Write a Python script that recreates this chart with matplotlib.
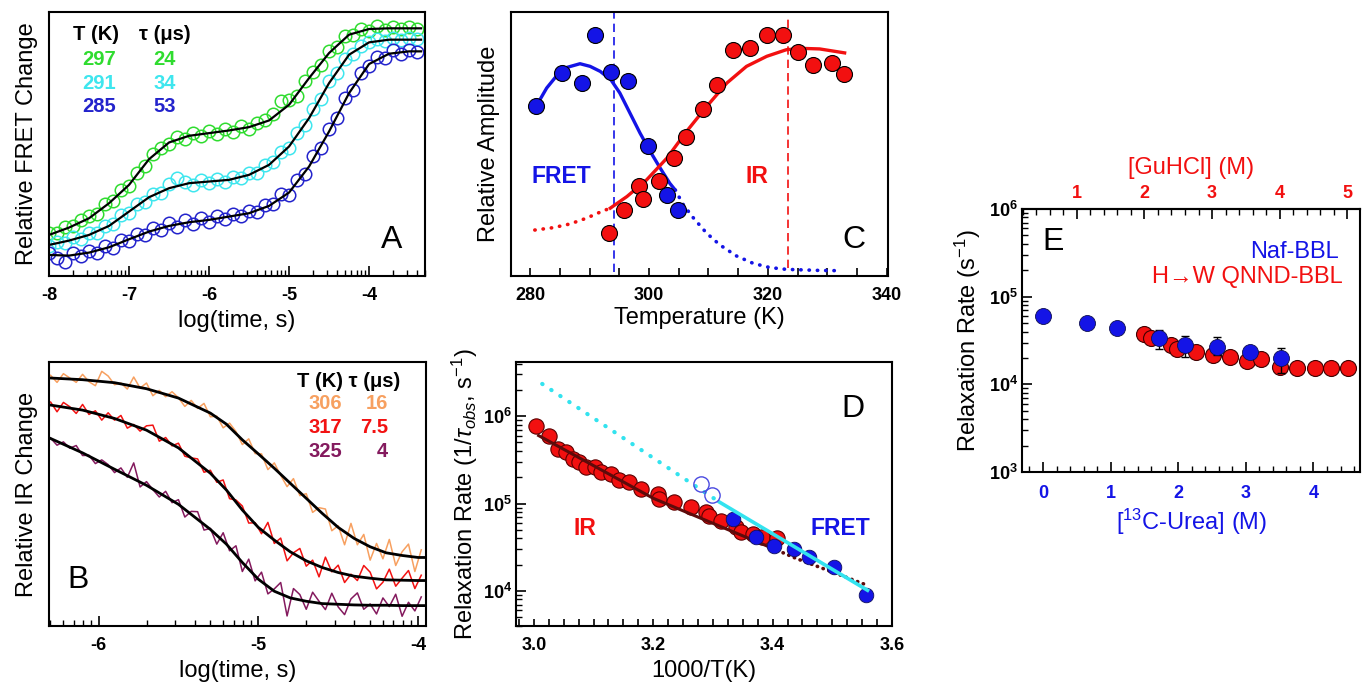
import numpy as np
import matplotlib
matplotlib.use("Agg")
import matplotlib.pyplot as plt
from matplotlib.ticker import FixedLocator, MultipleLocator, FuncFormatter, LogLocator, NullFormatter

plt.rcParams['font.family'] = ['Liberation Sans', 'DejaVu Sans']
plt.rcParams['mathtext.fontset'] = 'custom'
plt.rcParams['mathtext.rm'] = 'Liberation Sans'
plt.rcParams['mathtext.it'] = 'Liberation Sans:italic'
plt.rcParams['mathtext.bf'] = 'Liberation Sans:bold'
plt.rcParams['axes.linewidth'] = 1.5
plt.rcParams['axes.unicode_minus'] = False
plt.rcParams['xtick.direction'] = 'in'
plt.rcParams['ytick.direction'] = 'in'

# ---------------- panel A: FRET kinetics ----------------
A_T = ["297", "291", "285"]
A_TAU = ["24", "34", "53"]
A_COLORS = ["#2fdc2f", "#3ee6ee", "#2323cc"]
A_TIME = np.round(np.arange(-8.0, -3.35, 0.1), 2)
A_DATA = [
    [12.8, 13.0, 14.6, 15.0, 16.9, 17.9, 18.6, 21.5, 22.6, 25.8, 27.0, 30.9, 33.0, 36.6, 38.4, 39.5,
     41.5, 41.0, 42.9, 42.0, 43.4, 42.6, 43.9, 43.2, 44.9, 44.0, 45.9, 46.8, 48.5, 52.5, 52.8, 54.0,
     58.4, 61.2, 63.1, 67.5, 68.5, 71.9, 72.2, 74.0, 73.5, 74.8, 73.8, 74.6, 74.0, 74.5, 74.1],
    [9.0, 10.3, 9.9, 11.6, 11.2, 12.9, 13.0, 15.1, 15.5, 18.2, 19.0, 21.6, 22.2, 24.7, 25.0, 27.5,
     29.5, 28.2, 27.4, 28.7, 27.9, 29.0, 28.3, 29.6, 29.3, 30.9, 31.0, 33.2, 34.0, 37.1, 38.3, 42.8,
     45.1, 50.0, 53.1, 58.3, 60.8, 65.1, 66.6, 69.0, 70.1, 71.0, 70.3, 71.3, 70.6, 71.2, 70.9],
    [6.8, 5.4, 4.2, 6.9, 6.0, 7.6, 7.0, 8.9, 8.5, 10.8, 10.4, 12.6, 12.2, 14.5, 13.8, 15.9,
     14.8, 16.8, 15.6, 17.3, 16.2, 18.0, 17.0, 18.7, 17.9, 19.5, 19.1, 21.4, 21.6, 24.6, 24.3, 28.9,
     30.5, 36.0, 38.4, 44.1, 47.2, 53.4, 55.8, 60.8, 62.9, 65.5, 65.4, 67.6, 66.6, 67.8, 67.0],
]
A_FIT_TIME = [-8.0, -7.75, -7.5, -7.25, -7.0, -6.75, -6.5, -6.25, -6.0, -5.75, -5.5, -5.25,
              -5.0, -4.75, -4.5, -4.25, -4.0, -3.75, -3.5, -3.35]
A_FIT = [
    [12.3, 14.5, 17.3, 21.8, 27.3, 35.0, 40.0, 42.0, 42.8, 43.6, 44.6, 46.6, 51.3, 59.3, 66.8, 72.3,
     74.0, 74.2, 74.2, 74.2],
    [9.3, 10.6, 12.3, 15.0, 19.3, 23.6, 26.3, 27.8, 28.3, 28.8, 30.3, 33.3, 38.8, 47.3, 57.8, 66.3,
     70.0, 70.8, 70.8, 70.8],
    [6.3, 6.1, 7.0, 8.6, 11.0, 13.3, 15.0, 16.1, 16.8, 17.8, 18.8, 21.0, 25.0, 32.8, 43.3, 54.8,
     63.5, 66.6, 67.3, 67.3],
]
A_TICKS = [-8, -7, -6, -5, -4]

# ---------------- panel B: IR kinetics ----------------
B_T = ["306", "317", "325"]
B_TAU = ["16", "7.5", "4"]
B_COLORS = ["#f7a060", "#f21212", "#841a5e"]
B_TIME = np.round(np.arange(-6.30, -3.97, 0.04), 2)
B_DATA = [
    [75.0, 72.9, 75.5, 74.2, 72.9, 75.3, 73.1, 71.9, 76.2, 74.8, 72.2, 72.7, 70.9, 74.5, 71.2, 72.7,
     68.9, 70.5, 68.6, 70.1, 68.3, 65.7, 67.5, 65.1, 66.6, 62.6, 62.8, 59.3, 60.7, 58.2, 54.3, 56.0,
     51.6, 51.5, 46.8, 48.8, 45.1, 41.7, 44.1, 39.0, 39.6, 34.0, 35.4, 35.0, 28.5, 30.0, 24.3, 30.7,
     24.3, 27.4, 19.7, 24.7, 20.1, 25.9, 18.1, 22.2, 24.5, 16.3, 22.8],
    [67.0, 64.1, 66.9, 65.6, 63.6, 66.3, 63.3, 64.4, 61.6, 63.8, 61.6, 63.0, 59.2, 60.3, 58.3, 59.9,
     60.1, 55.3, 56.4, 53.9, 54.7, 50.8, 50.3, 50.0, 46.0, 46.6, 43.0, 43.7, 38.1, 37.7, 35.9, 30.8,
     30.9, 27.6, 31.0, 24.7, 26.3, 19.5, 21.9, 23.2, 17.9, 19.7, 14.7, 20.6, 16.2, 18.2, 13.0, 15.5,
     13.6, 18.1, 16.1, 11.1, 13.1, 17.0, 11.9, 14.3, 16.6, 11.2, 15.2],
    [56.2, 54.1, 55.1, 53.2, 54.0, 51.0, 51.1, 48.6, 49.7, 48.3, 45.9, 47.3, 44.5, 48.8, 41.6, 43.2,
     40.8, 38.6, 40.3, 36.9, 37.8, 32.6, 34.3, 34.2, 28.7, 29.2, 24.5, 27.9, 22.5, 24.0, 16.3, 20.0,
     13.5, 16.1, 9.6, 11.1, 13.0, 3.0, 11.2, 9.4, 5.0, 10.1, 7.4, 4.9, 9.8, 5.7, 3.4, 8.1,
     9.9, 5.0, 6.6, 3.6, 8.4, 5.8, 9.5, 2.9, 7.1, 4.5, 8.7],
]
B_FIT_TIME = [-6.3, -6.1, -5.9, -5.7, -5.5, -5.3, -5.2, -5.1, -5.0, -4.9, -4.8, -4.7, -4.6, -4.5,
              -4.4, -4.3, -4.2, -4.1, -4.0, -3.96]
B_FIT = [
    [74.2, 73.7, 72.8, 71.0, 68.2, 63.7, 60.4, 55.7, 51.5, 47.2, 42.7, 38.2, 33.7, 29.5, 26.2, 23.7,
     21.9, 21.1, 20.5, 20.5],
    [66.1, 64.6, 62.1, 58.6, 53.3, 45.7, 40.7, 34.7, 29.5, 25.7, 22.2, 19.5, 17.5, 16.0, 14.9, 14.3,
     13.8, 13.7, 13.6, 13.6],
    [56.1, 51.8, 46.9, 42.1, 36.4, 28.9, 24.5, 19.0, 14.0, 10.4, 8.4, 7.4, 6.7, 6.5, 6.3, 6.2,
     6.2, 6.1, 6.1, 6.1],
]
B_TICKS = [-6, -5, -4]

# ---------------- panel C: amplitudes ----------------
C_FRET_T = [281.0, 285.3, 288.8, 290.9, 293.6, 296.5, 299.8, 303.1, 304.9]
C_FRET_AMP = [0.642, 0.769, 0.731, 0.914, 0.771, 0.737, 0.494, 0.305, 0.248]
C_IR_T = [293.3, 295.8, 298.4, 299.0, 301.7, 304.2, 306.2, 309.1, 311.4, 314.2, 317.0, 319.9,
          322.5, 325.1, 327.6, 330.7, 332.8]
C_IR_AMP = [0.162, 0.250, 0.341, 0.291, 0.360, 0.446, 0.528, 0.632, 0.724, 0.855, 0.863, 0.911,
            0.914, 0.848, 0.800, 0.807, 0.766]
C_FRET_FIT_T = [281.0, 282.8, 284.5, 286.2, 288.4, 290.1, 291.8, 293.6, 295.1, 296.8, 298.5,
                300.2, 301.9, 303.5, 304.4]
C_FRET_FIT = [0.642, 0.712, 0.759, 0.790, 0.804, 0.794, 0.775, 0.743, 0.693, 0.617, 0.541,
              0.472, 0.408, 0.351, 0.326]
C_FRET_EXT_T = [304.4, 305.8, 307.5, 309.7, 311.9, 314.7, 317.5, 320.3, 323.1, 325.9, 328.7, 332.1]
C_FRET_EXT = [0.326, 0.269, 0.219, 0.162, 0.118, 0.076, 0.048, 0.032, 0.025, 0.023, 0.021, 0.020]
C_IR_EXT_T = [280.8, 283.9, 286.7, 289.5, 292.0, 293.5]
C_IR_EXT = [0.174, 0.183, 0.197, 0.219, 0.244, 0.257]
C_IR_FIT_T = [293.5, 296.3, 299.6, 303.0, 306.3, 309.7, 313.1, 316.4, 319.8, 323.1, 325.9,
              328.7, 332.9]
C_IR_FIT = [0.257, 0.301, 0.364, 0.446, 0.547, 0.642, 0.731, 0.794, 0.832, 0.857, 0.862,
            0.860, 0.845]
C_FRET_TM = 294.2
C_IR_TM = 323.4

# ---------------- panel D: Arrhenius ----------------
D_IR_X = [3.004, 3.026, 3.040, 3.054, 3.065, 3.076, 3.088, 3.102, 3.113, 3.129, 3.143, 3.160,
          3.180, 3.208, 3.210, 3.235, 3.263, 3.288, 3.294, 3.314, 3.339, 3.347, 3.367, 3.383, 3.408]
D_IR_RATE = [7.7e5, 5.9e5, 4.2e5, 3.9e5, 3.25e5, 3.0e5, 2.6e5, 2.6e5, 2.3e5, 2.2e5, 1.84e5,
             1.76e5, 1.48e5, 1.29e5, 1.14e5, 1.04e5, 9.1e4, 8.0e4, 7.3e4, 6.4e4, 5.4e4, 4.7e4,
             4.5e4, 4.1e4, 4.0e4]
D_FRET_X = [3.333, 3.372, 3.403, 3.436, 3.461, 3.503, 3.556]
D_FRET_RATE = [6.7e4, 4.1e4, 3.3e4, 3.05e4, 2.45e4, 1.9e4, 8.9e3]
D_OPEN_X = [3.280, 3.298]
D_OPEN_RATE = [1.69e5, 1.27e5]
D_IR_FIT_X = [3.008, 3.2, 3.408]
D_IR_FIT = [6.0e5, 1.15e5, 2.92e4]
D_IR_EXT_X = [3.408, 3.44, 3.50, 3.559]
D_IR_EXT = [2.92e4, 2.35e4, 1.65e4, 1.16e4]
D_FRET_EXT_X = [3.014, 3.311]
D_FRET_EXT = [2.34e6, 1.04e5]
D_FRET_FIT_X = [3.311, 3.559]
D_FRET_FIT = [1.04e5, 1.02e4]

# ---------------- panel E: denaturant ----------------
E_UREA = [0.0, 0.65, 1.10, 1.72, 2.10, 2.57, 3.06, 3.52]
E_UREA_RATE = [6.07e4, 5.05e4, 4.39e4, 3.41e4, 2.83e4, 2.69e4, 2.32e4, 1.98e4]
E_UREA_ERR_LO = [0, 0, 0, 9100, 8000, 5300, 0, 6500]
E_UREA_ERR_HI = [0, 0, 0, 7600, 7300, 7500, 0, 6000]
E_GUHCL = [1.99, 2.09, 2.40, 2.48, 2.76, 3.01, 3.26, 3.51, 3.73, 4.00, 4.26, 4.52, 4.76, 5.01]
E_GUHCL_RATE = [3.72e4, 3.41e4, 2.81e4, 2.51e4, 2.32e4, 2.16e4, 2.07e4, 1.86e4, 1.95e4, 1.59e4,
                1.52e4, 1.52e4, 1.52e4, 1.52e4]
E_UREA_TICKS = [0, 1, 2, 3, 4]
E_GUHCL_TICKS = [1, 2, 3, 4, 5]
GUHCL_OFFSET = 0.5  # top axis = urea axis shifted by 0.5 M

BLUE = "#1414e6"
RED = "#f21010"
LABEL_FS = 17
TICK_FS = 13


def log_minor(lo, hi):
    out = []
    for n in range(int(np.floor(lo)), int(np.ceil(hi)) + 1):
        for k in range(2, 10):
            v = n + np.log10(k)
            if lo <= v <= hi:
                out.append(v)
    return out


def bold_pow(v, pos):
    return r"$\mathbf{10^{%d}}$" % int(round(np.log10(v)))


def style_logy(ax):
    ax.set_yscale("log")
    ax.yaxis.set_major_locator(LogLocator(base=10, numticks=10))
    ax.yaxis.set_minor_locator(LogLocator(base=10, subs=np.arange(2, 10), numticks=10))
    ax.yaxis.set_major_formatter(FuncFormatter(bold_pow))
    ax.yaxis.set_minor_formatter(NullFormatter())
    ax.tick_params(axis="y", which="major", length=7, width=1.2, labelsize=TICK_FS, pad=3)
    ax.tick_params(axis="y", which="minor", length=4, width=1.0)


def plot_a(fig):
    ax = fig.add_axes([0.0359, 0.6012, 0.2753, 0.3815])
    for data, fit, c in zip(A_DATA, A_FIT, A_COLORS):
        ax.plot(A_TIME, data, "o", mfc="none", mec=c, ms=9, mew=1.1)
        ax.plot(A_FIT_TIME, fit, color="k", lw=1.6)
    ax.set_xlim(-8.0, -3.30)
    ax.set_ylim(0, 79.1)
    ax.set_xticks(A_TICKS, [str(t) for t in A_TICKS], fontweight="bold", fontsize=TICK_FS)
    ax.xaxis.set_minor_locator(FixedLocator(log_minor(-8.0, -3.30)))
    ax.tick_params(axis="x", which="major", length=7, width=1.2, pad=8)
    ax.tick_params(axis="x", which="minor", length=4, width=1.0)
    ax.set_yticks([])
    ax.set_xlabel("log(time, s)", fontsize=LABEL_FS, labelpad=4)
    ax.set_ylabel("Relative FRET Change", fontsize=LABEL_FS, labelpad=8)
    ax.text(-7.70, 72.3, "T (K)", fontsize=14.5, fontweight="bold", va="center")
    ax.text(-6.87, 72.3, "\u03c4 (\u03bcs)", fontsize=14.5, fontweight="bold", va="center")
    for i, (t, tau, c) in enumerate(zip(A_T, A_TAU, A_COLORS)):
        y = 64.8 - 7.0 * i
        ax.text(-7.59, y, t, color=c, fontsize=14.5, fontweight="bold", va="center")
        ax.text(-6.70, y, tau, color=c, fontsize=14.5, fontweight="bold", va="center")
    ax.text(-3.72, 10.8, "A", fontsize=23, ha="center", va="center")


def plot_b(fig):
    ax = fig.add_axes([0.0359, 0.0954, 0.2760, 0.3815])
    for data, fit, c in zip(B_DATA, B_FIT, B_COLORS):
        ax.plot(B_TIME, data, color=c, lw=1.1)
        ax.plot(B_FIT_TIME, fit, color="k", lw=2.0)
    ax.set_xlim(-6.31, -3.95)
    ax.set_ylim(0, 79.0)
    ax.set_xticks(B_TICKS, [str(t) for t in B_TICKS], fontweight="bold", fontsize=TICK_FS)
    ax.xaxis.set_minor_locator(FixedLocator(log_minor(-6.31, -3.95)))
    ax.tick_params(axis="x", which="major", length=7, width=1.2, pad=8)
    ax.tick_params(axis="x", which="minor", length=4, width=1.0)
    ax.set_yticks([])
    ax.set_xlabel("log(time, s)", fontsize=LABEL_FS, labelpad=4)
    ax.set_ylabel("Relative IR Change", fontsize=LABEL_FS, labelpad=8)
    ax.text(-4.76, 73.2, "T (K) \u03c4 (\u03bcs)", fontsize=14.5, fontweight="bold", va="center")
    for i, (t, tau, c) in enumerate(zip(B_T, B_TAU, B_COLORS)):
        y = 66.7 - 7.25 * i
        ax.text(-4.687, y, t, color=c, fontsize=14.5, fontweight="bold", va="center")
        ax.text(-4.186, y, tau, color=c, fontsize=14.5, fontweight="bold", va="center", ha="right")
    ax.text(-6.126, 13.7, "B", fontsize=23, ha="center", va="center")


def plot_c(fig):
    ax = fig.add_axes([0.3741, 0.6012, 0.2760, 0.3815])
    ax.axvline(C_FRET_TM, ymin=0.016, ymax=1, color=BLUE, lw=1.2, ls=(0, (5, 3)))
    ax.axvline(C_IR_TM, ymin=0.03, ymax=0.99, color=RED, lw=1.2, ls=(0, (5, 3)))
    ax.plot(C_FRET_FIT_T, C_FRET_FIT, color=BLUE, lw=2.4)
    ax.plot(C_FRET_EXT_T, C_FRET_EXT, color=BLUE, lw=2.6, ls=(0, (0.1, 2.2)), dash_capstyle="round")
    ax.plot(C_IR_FIT_T, C_IR_FIT, color=RED, lw=2.4)
    ax.plot(C_IR_EXT_T, C_IR_EXT, color=RED, lw=2.6, ls=(0, (0.1, 2.2)), dash_capstyle="round")
    ax.plot(C_FRET_T, C_FRET_AMP, "o", color=BLUE, mec="k", mew=0.8, ms=11.5)
    ax.plot(C_IR_T, C_IR_AMP, "o", color=RED, mec="k", mew=0.8, ms=11.5)
    ax.set_xlim(276.8, 340.2)
    ax.set_ylim(0, 1)
    ax.xaxis.set_major_locator(MultipleLocator(20))
    ax.xaxis.set_minor_locator(MultipleLocator(5))
    ax.tick_params(axis="x", which="both", length=6, width=1.2, labelsize=TICK_FS, pad=8)
    for lab in ax.get_xticklabels():
        lab.set_fontweight("bold")
    ax.set_yticks([])
    ax.set_xlabel("Temperature (K)", fontsize=LABEL_FS, labelpad=2)
    ax.set_ylabel("Relative Amplitude", fontsize=LABEL_FS, labelpad=8)
    ax.text(285.3, 0.377, "FRET", color=BLUE, fontsize=16.5, fontweight="bold", ha="center", va="center")
    ax.text(318.2, 0.377, "IR", color=RED, fontsize=16.5, fontweight="bold", ha="center", va="center")
    ax.text(334.45, 0.137, "C", fontsize=23, ha="center", va="center")


def plot_d(fig):
    ax = fig.add_axes([0.3777, 0.0954, 0.2753, 0.3815])
    ax.plot(D_IR_X, D_IR_RATE, "o", color=RED, mec="#5a0000", mew=0.8, ms=11)
    ax.plot(D_IR_FIT_X, D_IR_FIT, color="#5e0b0b", lw=2.2)
    ax.plot(D_IR_EXT_X, D_IR_EXT, color="#5e0b0b", lw=2.6, ls=(0, (0.1, 1.6)), dash_capstyle="round")
    ax.plot(D_FRET_X, D_FRET_RATE, "o", color=BLUE, mec="#101060", mew=0.6, ms=10.5)
    ax.plot(D_FRET_EXT_X, D_FRET_EXT, color="#33e3ef", lw=3, ls=(0, (0.1, 2.5)), dash_capstyle="round")
    ax.plot(D_FRET_FIT_X, D_FRET_FIT, color="#33e3ef", lw=2.6)
    ax.plot(D_OPEN_X, D_OPEN_RATE, "o", mfc="none", mec="#4a4ae0", mew=1.0, ms=11)
    ax.set_xlim(2.97, 3.60)
    style_logy(ax)
    ax.set_ylim(10 ** 3.6, 10 ** 6.62)
    ax.xaxis.set_major_locator(MultipleLocator(0.2))
    ax.xaxis.set_minor_locator(MultipleLocator(0.025))
    ax.xaxis.set_major_formatter(FuncFormatter(lambda v, p: "%.1f" % v))
    ax.tick_params(axis="x", which="both", length=5, width=1.2, labelsize=TICK_FS, pad=8)
    for lab in ax.get_xticklabels():
        lab.set_fontweight("bold")
    ax.set_xlabel("1000/T(K)", fontsize=LABEL_FS, labelpad=4)
    ax.set_ylabel(r"Relaxation Rate (1/$\tau_{obs}$, s$^{-1}$)", fontsize=LABEL_FS, labelpad=2)
    ax.text(3.085, 5.15e4, "IR", color=RED, fontsize=16.5, fontweight="bold", ha="center", va="center")
    ax.text(3.514, 5.15e4, "FRET", color=BLUE, fontsize=16.5, fontweight="bold", ha="center", va="center")
    ax.text(3.534, 1.21e6, "D", fontsize=23, ha="center", va="center")


def plot_e(fig):
    ax = fig.add_axes([0.7482, 0.3179, 0.2475, 0.3801])
    ax.plot(np.array(E_GUHCL) - GUHCL_OFFSET, E_GUHCL_RATE, "o", color=RED, mec="#400000",
            mew=0.8, ms=11.5)
    ax.errorbar(E_UREA, E_UREA_RATE, yerr=[E_UREA_ERR_LO, E_UREA_ERR_HI], fmt="none",
                ecolor="k", elinewidth=1.0, capsize=3)
    ax.plot(E_UREA, E_UREA_RATE, "o", color=BLUE, mec="#101050", mew=0.6, ms=11.5)
    ax.set_xlim(-0.31, 4.69)
    style_logy(ax)
    ax.set_ylim(1e3, 1e6)
    ax.set_xticks(E_UREA_TICKS, [str(t) for t in E_UREA_TICKS], fontweight="bold",
                  fontsize=TICK_FS, color=BLUE)
    ax.xaxis.set_minor_locator(MultipleLocator(0.2))
    ax.tick_params(axis="x", which="major", length=7, width=1.2, pad=9)
    ax.tick_params(axis="x", which="minor", length=4, width=1.0)
    ax.set_xlabel(r"[$^{13}$C-Urea] (M)", fontsize=LABEL_FS, color=BLUE, labelpad=4)
    ax.set_ylabel(r"Relaxation Rate (s$^{-1}$)", fontsize=LABEL_FS, labelpad=4)

    top = ax.secondary_xaxis("top", functions=(lambda u: u + GUHCL_OFFSET, lambda g: g - GUHCL_OFFSET))
    top.set_xticks(E_GUHCL_TICKS, [str(t) for t in E_GUHCL_TICKS], fontweight="bold",
                   fontsize=TICK_FS, color=RED)
    top.xaxis.set_minor_locator(FixedLocator([g / 5 for g in range(1, 26)]))
    top.tick_params(axis="x", which="major", direction="in", length=7, width=1.2, pad=5)
    top.tick_params(axis="x", which="minor", direction="in", length=4, width=1.0)
    top.set_xlabel("[GuHCl] (M)", fontsize=LABEL_FS, color=RED, labelpad=8)

    ax.text(0.15, 4.24e5, "E", fontsize=23, ha="center", va="center")
    ax.text(4.37, 3.26e5, "Naf-BBL", color=BLUE, fontsize=17, ha="right", va="center")
    ax.text(4.43, 1.66e5, "H\u2192W QNND-BBL", color=RED, fontsize=17, ha="right", va="center")


fig = plt.figure(figsize=(13.66, 6.92), dpi=100)
plot_a(fig)
plot_b(fig)
plot_c(fig)
plot_d(fig)
plot_e(fig)
fig.savefig("out.png", dpi=100)
plt.close(fig)
